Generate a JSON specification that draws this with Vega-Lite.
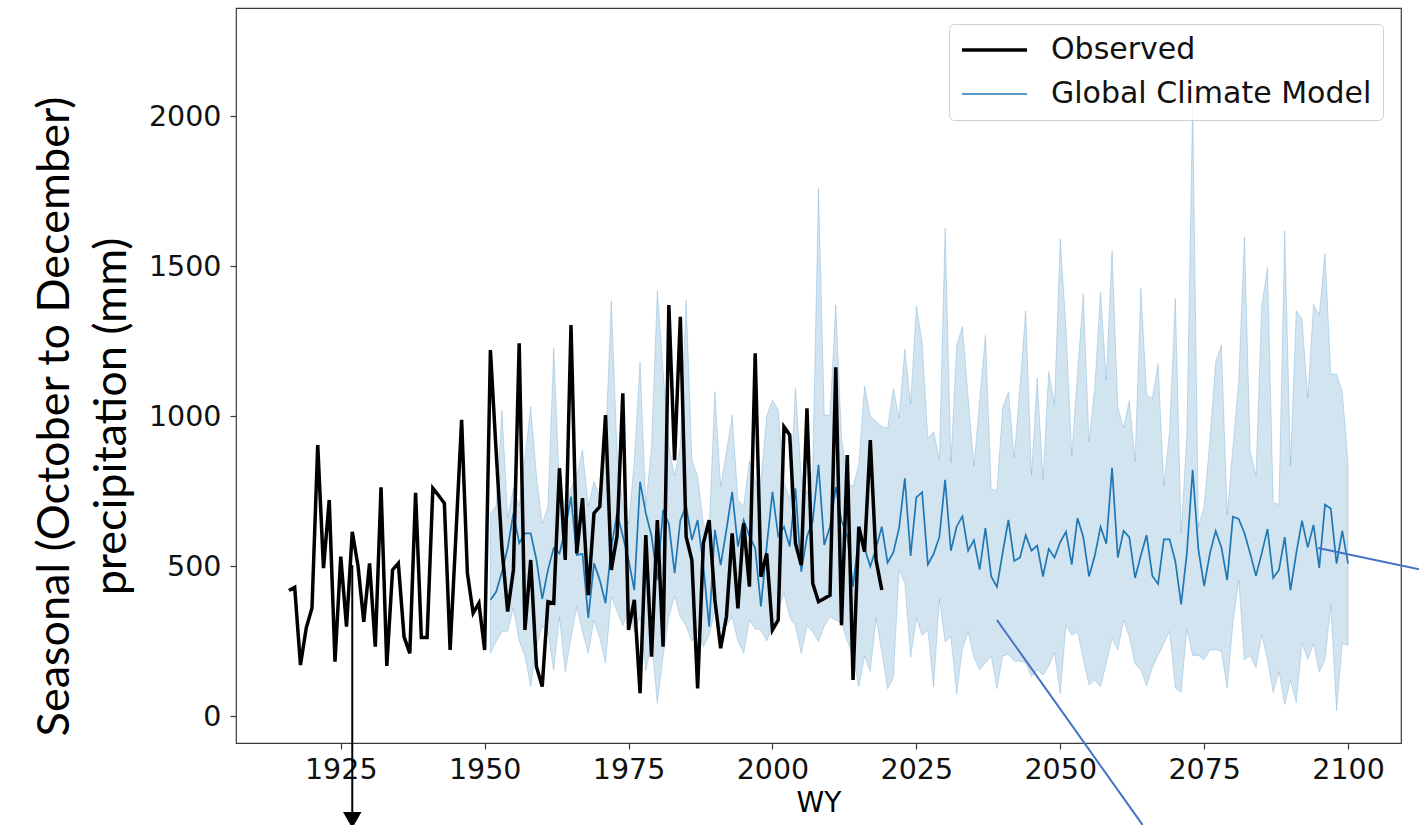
{
  "$schema": "https://vega.github.io/schema/vega-lite/v6.json",
  "autosize": {"type": "none"},
  "width": 1165,
  "height": 735,
  "padding": {"left": 236, "top": 8, "right": 18, "bottom": 82},
  "background": "#ffffff",
  "datasets": {
    "obs": [
      {"year":1916,"value":418},{"year":1917,"value":429},{"year":1918,"value":170},{"year":1919,"value":293},{"year":1920,"value":360},
      {"year":1921,"value":903},{"year":1922,"value":493},{"year":1923,"value":720},{"year":1924,"value":181},{"year":1925,"value":531},
      {"year":1926,"value":298},{"year":1927,"value":614},{"year":1928,"value":500},{"year":1929,"value":314},{"year":1930,"value":509},
      {"year":1931,"value":231},{"year":1932,"value":762},{"year":1933,"value":167},{"year":1934,"value":487},{"year":1935,"value":509},
      {"year":1936,"value":264},{"year":1937,"value":209},{"year":1938,"value":744},{"year":1939,"value":262},{"year":1940,"value":262},
      {"year":1941,"value":759},{"year":1942,"value":735},{"year":1943,"value":709},{"year":1944,"value":220},{"year":1945,"value":600},
      {"year":1946,"value":987},{"year":1947,"value":476},{"year":1948,"value":343},{"year":1949,"value":376},{"year":1950,"value":220},
      {"year":1951,"value":1220},{"year":1952,"value":880},{"year":1953,"value":560},{"year":1954,"value":348},{"year":1955,"value":487},
      {"year":1956,"value":1242},{"year":1957,"value":287},{"year":1958,"value":520},{"year":1959,"value":164},{"year":1960,"value":98},
      {"year":1961,"value":381},{"year":1962,"value":376},{"year":1963,"value":826},{"year":1964,"value":520},{"year":1965,"value":1303},
      {"year":1966,"value":542},{"year":1967,"value":726},{"year":1968,"value":403},{"year":1969,"value":676},{"year":1970,"value":698},
      {"year":1971,"value":1003},{"year":1972,"value":487},{"year":1973,"value":600},{"year":1974,"value":1076},{"year":1975,"value":287},
      {"year":1976,"value":387},{"year":1977,"value":76},{"year":1978,"value":603},{"year":1979,"value":198},{"year":1980,"value":653},
      {"year":1981,"value":231},{"year":1982,"value":1370},{"year":1983,"value":853},{"year":1984,"value":1331},{"year":1985,"value":598},
      {"year":1986,"value":520},{"year":1987,"value":92},{"year":1988,"value":576},{"year":1989,"value":653},{"year":1990,"value":387},
      {"year":1991,"value":226},{"year":1992,"value":331},{"year":1993,"value":609},{"year":1994,"value":359},{"year":1995,"value":642},
      {"year":1996,"value":431},{"year":1997,"value":1209},{"year":1998,"value":464},{"year":1999,"value":542},{"year":2000,"value":287},
      {"year":2001,"value":320},{"year":2002,"value":964},{"year":2003,"value":937},{"year":2004,"value":576},{"year":2005,"value":503},
      {"year":2006,"value":1026},{"year":2007,"value":442},{"year":2008,"value":381},{"year":2009,"value":392},{"year":2010,"value":403},
      {"year":2011,"value":1162},{"year":2012,"value":303},{"year":2013,"value":870},{"year":2014,"value":120},{"year":2015,"value":631},
      {"year":2016,"value":548},{"year":2017,"value":920},{"year":2018,"value":520},{"year":2019,"value":420}
    ],
    "gcm": [
      {"year":1951,"mean":387,"lower":210,"upper":676},{"year":1952,"mean":414,"lower":248,"upper":700},{"year":1953,"mean":480,"lower":281,"upper":1020},
      {"year":1954,"mean":560,"lower":283,"upper":660},{"year":1955,"mean":676,"lower":360,"upper":760},{"year":1956,"mean":576,"lower":250,"upper":700},
      {"year":1957,"mean":609,"lower":200,"upper":860},{"year":1958,"mean":609,"lower":98,"upper":1031},{"year":1959,"mean":520,"lower":231,"upper":800},
      {"year":1960,"mean":390,"lower":300,"upper":640},{"year":1961,"mean":487,"lower":280,"upper":700},{"year":1962,"mean":560,"lower":153,"upper":1226},
      {"year":1963,"mean":542,"lower":330,"upper":760},{"year":1964,"mean":620,"lower":148,"upper":700},{"year":1965,"mean":731,"lower":260,"upper":760},
      {"year":1966,"mean":537,"lower":364,"upper":800},{"year":1967,"mean":540,"lower":280,"upper":887},{"year":1968,"mean":327,"lower":209,"upper":700},
      {"year":1969,"mean":509,"lower":320,"upper":781},{"year":1970,"mean":453,"lower":260,"upper":730},{"year":1971,"mean":376,"lower":176,"upper":900},
      {"year":1972,"mean":560,"lower":400,"upper":1384},{"year":1973,"mean":676,"lower":350,"upper":880},{"year":1974,"mean":600,"lower":300,"upper":700},
      {"year":1975,"mean":520,"lower":360,"upper":640},{"year":1976,"mean":420,"lower":280,"upper":850},{"year":1977,"mean":781,"lower":330,"upper":1181},
      {"year":1978,"mean":676,"lower":150,"upper":700},{"year":1979,"mean":600,"lower":250,"upper":900},{"year":1980,"mean":453,"lower":42,"upper":1418},
      {"year":1981,"mean":687,"lower":200,"upper":1150},{"year":1982,"mean":640,"lower":330,"upper":900},{"year":1983,"mean":476,"lower":400,"upper":800},
      {"year":1984,"mean":653,"lower":330,"upper":900},{"year":1985,"mean":700,"lower":300,"upper":1387},{"year":1986,"mean":587,"lower":250,"upper":853},
      {"year":1987,"mean":653,"lower":280,"upper":798},{"year":1988,"mean":500,"lower":231,"upper":640},{"year":1989,"mean":298,"lower":270,"upper":620},
      {"year":1990,"mean":620,"lower":350,"upper":1081},{"year":1991,"mean":503,"lower":290,"upper":764},{"year":1992,"mean":620,"lower":300,"upper":880},
      {"year":1993,"mean":747,"lower":330,"upper":1003},{"year":1994,"mean":565,"lower":250,"upper":720},{"year":1995,"mean":653,"lower":209,"upper":700},
      {"year":1996,"mean":600,"lower":320,"upper":850},{"year":1997,"mean":560,"lower":290,"upper":780},{"year":1998,"mean":365,"lower":287,"upper":780},
      {"year":1999,"mean":565,"lower":250,"upper":1000},{"year":2000,"mean":747,"lower":300,"upper":1053},{"year":2001,"mean":600,"lower":350,"upper":1020},
      {"year":2002,"mean":631,"lower":410,"upper":780},{"year":2003,"mean":565,"lower":330,"upper":720},{"year":2004,"mean":759,"lower":300,"upper":1092},
      {"year":2005,"mean":481,"lower":209,"upper":800},{"year":2006,"mean":598,"lower":300,"upper":740},{"year":2007,"mean":650,"lower":280,"upper":820},
      {"year":2008,"mean":837,"lower":248,"upper":1759},{"year":2009,"mean":570,"lower":300,"upper":1003},{"year":2010,"mean":631,"lower":330,"upper":1003},
      {"year":2011,"mean":764,"lower":320,"upper":1370},{"year":2012,"mean":650,"lower":310,"upper":930},{"year":2013,"mean":600,"lower":250,"upper":780},
      {"year":2014,"mean":431,"lower":200,"upper":764},{"year":2015,"mean":598,"lower":98,"upper":840},{"year":2016,"mean":560,"lower":200,"upper":1100},
      {"year":2017,"mean":498,"lower":148,"upper":1000},{"year":2018,"mean":560,"lower":327,"upper":982},{"year":2019,"mean":631,"lower":212,"upper":965},
      {"year":2020,"mean":511,"lower":91,"upper":959},{"year":2021,"mean":545,"lower":126,"upper":1091},{"year":2022,"mean":626,"lower":488,"upper":994},
      {"year":2023,"mean":792,"lower":442,"upper":1223},{"year":2024,"mean":534,"lower":195,"upper":1040},{"year":2025,"mean":729,"lower":327,"upper":1367},
      {"year":2026,"mean":746,"lower":269,"upper":1247},{"year":2027,"mean":505,"lower":287,"upper":925},{"year":2028,"mean":540,"lower":97,"upper":948},
      {"year":2029,"mean":597,"lower":390,"upper":856},{"year":2030,"mean":787,"lower":247,"upper":1626},{"year":2031,"mean":551,"lower":264,"upper":844},
      {"year":2032,"mean":631,"lower":74,"upper":1235},{"year":2033,"mean":666,"lower":223,"upper":1298},{"year":2034,"mean":551,"lower":281,"upper":1063},
      {"year":2035,"mean":586,"lower":195,"upper":833},{"year":2036,"mean":488,"lower":154,"upper":1051},{"year":2037,"mean":626,"lower":177,"upper":1269},
      {"year":2038,"mean":465,"lower":200,"upper":758},{"year":2039,"mean":430,"lower":91,"upper":752},{"year":2040,"mean":545,"lower":200,"upper":1028},
      {"year":2041,"mean":654,"lower":206,"upper":1080},{"year":2042,"mean":517,"lower":183,"upper":861},{"year":2043,"mean":528,"lower":183,"upper":1097},
      {"year":2044,"mean":603,"lower":177,"upper":1350},{"year":2045,"mean":551,"lower":131,"upper":804},{"year":2046,"mean":568,"lower":154,"upper":1126},
      {"year":2047,"mean":465,"lower":137,"upper":787},{"year":2048,"mean":557,"lower":166,"upper":1149},{"year":2049,"mean":528,"lower":212,"upper":1040},
      {"year":2050,"mean":580,"lower":74,"upper":1591},{"year":2051,"mean":614,"lower":304,"upper":1292},{"year":2052,"mean":505,"lower":269,"upper":867},
      {"year":2053,"mean":660,"lower":281,"upper":1143},{"year":2054,"mean":597,"lower":189,"upper":1407},{"year":2055,"mean":465,"lower":103,"upper":913},
      {"year":2056,"mean":534,"lower":120,"upper":1097},{"year":2057,"mean":631,"lower":97,"upper":1413},{"year":2058,"mean":574,"lower":177,"upper":1120},
      {"year":2059,"mean":827,"lower":258,"upper":1551},{"year":2060,"mean":528,"lower":220,"upper":1030},{"year":2061,"mean":617,"lower":320,"upper":960},
      {"year":2062,"mean":596,"lower":263,"upper":1052},{"year":2063,"mean":460,"lower":174,"upper":848},{"year":2064,"mean":535,"lower":154,"upper":1426},
      {"year":2065,"mean":603,"lower":100,"upper":1072},{"year":2066,"mean":467,"lower":161,"upper":1059},{"year":2067,"mean":440,"lower":202,"upper":1174},
      {"year":2068,"mean":589,"lower":242,"upper":766},{"year":2069,"mean":589,"lower":283,"upper":950},{"year":2070,"mean":515,"lower":93,"upper":1392},
      {"year":2071,"mean":372,"lower":79,"upper":610},{"year":2072,"mean":542,"lower":290,"upper":937},{"year":2073,"mean":821,"lower":202,"upper":2050},
      {"year":2074,"mean":555,"lower":202,"upper":630},{"year":2075,"mean":433,"lower":188,"upper":700},{"year":2076,"mean":542,"lower":220,"upper":920},
      {"year":2077,"mean":617,"lower":222,"upper":1181},{"year":2078,"mean":562,"lower":215,"upper":1236},{"year":2079,"mean":453,"lower":93,"upper":671},
      {"year":2080,"mean":664,"lower":310,"upper":897},{"year":2081,"mean":657,"lower":453,"upper":1113},{"year":2082,"mean":610,"lower":188,"upper":1597},
      {"year":2083,"mean":542,"lower":202,"upper":882},{"year":2084,"mean":467,"lower":161,"upper":800},{"year":2085,"mean":542,"lower":270,"upper":1365},
      {"year":2086,"mean":623,"lower":188,"upper":1494},{"year":2087,"mean":460,"lower":79,"upper":712},{"year":2088,"mean":487,"lower":147,"upper":705},
      {"year":2089,"mean":596,"lower":38,"upper":1617},{"year":2090,"mean":419,"lower":120,"upper":834},{"year":2091,"mean":542,"lower":45,"upper":1351},
      {"year":2092,"mean":651,"lower":242,"upper":1324},{"year":2093,"mean":562,"lower":188,"upper":1059},{"year":2094,"mean":637,"lower":242,"upper":1372},
      {"year":2095,"mean":494,"lower":147,"upper":1338},{"year":2096,"mean":705,"lower":188,"upper":1542},{"year":2097,"mean":691,"lower":372,"upper":1140},
      {"year":2098,"mean":508,"lower":18,"upper":1140},{"year":2099,"mean":617,"lower":242,"upper":1079},{"year":2100,"mean":508,"lower":236,"upper":841}
    ],
    "arrow": [
      {"year":1927,"value":503,"year2":1927,"value2":-335}
    ],
    "arrowhead": [
      {"year":1927,"value":-347}
    ],
    "callouts": [
      {"year":2094.8,"value":560,"year2":2112.9,"value2":487},
      {"year":2039.0,"value":320,"year2":2064.3,"value2":-363}
    ]
  },
  "layer": [
    {
      "data": {"name": "gcm"},
      "mark": {"type": "area", "color": "#1f77b4", "fillOpacity": 0.2, "stroke": "#1f77b4", "strokeOpacity": 0.22, "strokeWidth": 1},
      "encoding": {
        "x": {"field": "year", "type": "quantitative", "scale": {"domain": [1906.8, 2109.2], "nice": false, "zero": false},
              "axis": {"values": [1925, 1950, 1975, 2000, 2025, 2050, 2075, 2100], "format": "d", "title": "WY", "labelFlush": false, "labelOverlap": false}},
        "y": {"field": "lower", "type": "quantitative", "scale": {"domain": [-90, 2360], "nice": false, "zero": false},
              "axis": {"values": [0, 500, 1000, 1500, 2000], "format": "d", "labelFlush": false, "labelOverlap": false,
                       "title": ["Seasonal (October to December)", "precipitation (mm)"]}},
        "y2": {"field": "upper"}
      }
    },
    {
      "data": {"name": "gcm"},
      "mark": {"type": "line"},
      "encoding": {
        "x": {"field": "year", "type": "quantitative", "scale": {"domain": [1906.8, 2109.2], "nice": false, "zero": false}},
        "y": {"field": "mean", "type": "quantitative", "scale": {"domain": [-90, 2360], "nice": false, "zero": false}},
        "color": {"datum": "Global Climate Model", "type": "nominal", "scale": {"domain": ["Observed", "Global Climate Model"], "range": ["#000000", "#1f77b4"]}},
        "strokeWidth": {"datum": "Global Climate Model", "type": "nominal", "scale": {"domain": ["Observed", "Global Climate Model"], "range": [3.5, 1.7]}}
      }
    },
    {
      "data": {"name": "obs"},
      "mark": {"type": "line"},
      "encoding": {
        "x": {"field": "year", "type": "quantitative", "scale": {"domain": [1906.8, 2109.2], "nice": false, "zero": false}},
        "y": {"field": "value", "type": "quantitative", "scale": {"domain": [-90, 2360], "nice": false, "zero": false}},
        "color": {"datum": "Observed", "type": "nominal", "scale": {"domain": ["Observed", "Global Climate Model"], "range": ["#000000", "#1f77b4"]}},
        "strokeWidth": {"datum": "Observed", "type": "nominal", "scale": {"domain": ["Observed", "Global Climate Model"], "range": [3.5, 1.7]}}
      }
    },
    {
      "data": {"name": "arrow"},
      "mark": {"type": "rule", "color": "#000000", "strokeWidth": 2},
      "encoding": {
        "x": {"field": "year", "type": "quantitative", "scale": {"domain": [1906.8, 2109.2], "nice": false, "zero": false}},
        "y": {"field": "value", "type": "quantitative", "scale": {"domain": [-90, 2360], "nice": false, "zero": false}},
        "x2": {"field": "year2"},
        "y2": {"field": "value2"}
      }
    },
    {
      "data": {"name": "arrowhead"},
      "mark": {"type": "point", "shape": "triangle-down", "filled": true, "color": "#000000", "size": 340, "opacity": 1},
      "encoding": {
        "x": {"field": "year", "type": "quantitative", "scale": {"domain": [1906.8, 2109.2], "nice": false, "zero": false}},
        "y": {"field": "value", "type": "quantitative", "scale": {"domain": [-90, 2360], "nice": false, "zero": false}}
      }
    },
    {
      "data": {"name": "callouts"},
      "mark": {"type": "rule", "color": "#4472c4", "strokeWidth": 2},
      "encoding": {
        "x": {"field": "year", "type": "quantitative", "scale": {"domain": [1906.8, 2109.2], "nice": false, "zero": false}},
        "y": {"field": "value", "type": "quantitative", "scale": {"domain": [-90, 2360], "nice": false, "zero": false}},
        "x2": {"field": "year2"},
        "y2": {"field": "value2"}
      }
    }
  ],
  "config": {
    "font": "DejaVu Sans",
    "view": {"stroke": "#3a3a3a", "strokeWidth": 1.2},
    "axis": {
      "domain": false, "grid": false,
      "tickColor": "#3a3a3a", "tickWidth": 1.2, "tickSize": 6,
      "labelFont": "DejaVu Sans", "labelFontSize": 28.5, "labelColor": "#111111",
      "titleFontWeight": "normal", "titleColor": "#000000"
    },
    "axisX": {"labelPadding": 6, "titleFont": "DejaVu Sans", "titleFontSize": 28, "titleY": 60, "titleBaseline": "middle", "titleX": 582.5, "titleAlign": "center"},
    "axisY": {"labelPadding": 9, "titleFont": "Lato", "titleFontSize": 45, "titleAngle": -90, "titleX": -168, "titleY": 408, "titleAlign": "center", "titleBaseline": "alphabetic", "titleLineHeight": 57},
    "legend": {
      "orient": "none", "legendX": 713, "legendY": 16, "title": null,
      "symbolType": "stroke", "symbolSize": 4225, "clipHeight": 30,
      "labelFont": "DejaVu Sans", "labelFontSize": 30, "labelColor": "#111111", "labelOffset": 22, "labelLimit": 700,
      "padding": 11, "rowPadding": 14,
      "fillColor": "rgba(255,255,255,0.8)", "strokeColor": "#d0d0d0", "cornerRadius": 5
    }
  }
}
